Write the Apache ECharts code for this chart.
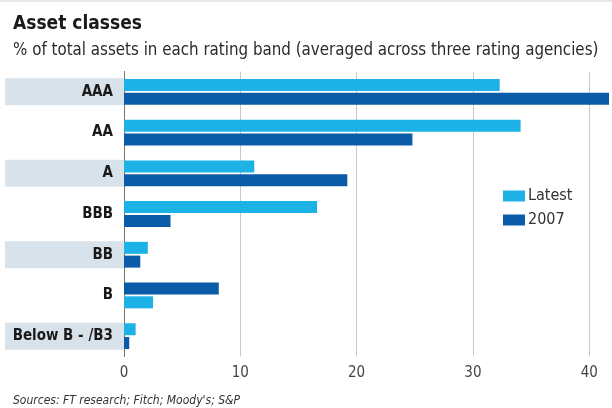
<!DOCTYPE html>
<html>
<head>
<meta charset="utf-8">
<script src="https://cdn.jsdelivr.net/npm/echarts@6/dist/echarts.min.js"></script>
<style>
  html, body { margin: 0; padding: 0; background: #fff; }
  #chart { width: 612px; height: 408px; }
</style>
</head>
<body>
<div id="chart"></div>
<script>
// Rating bands, top to bottom
const categories = ['AAA', 'AA', 'A', 'BBB', 'BB', 'B', 'Below B - /B3'];
// % of total assets
const latestValues = [32.3, 34.1, 11.2, 16.6, 2.05, 2.5, 1.0];
const values2007 = [42.5, 24.8, 19.2, 4.0, 1.4, 8.15, 0.45];
const xTicks = [0, 10, 20, 30, 40];
// in the original the B row has its bars the other way round
const swappedRows = ['B'];

const LIGHT = '#1cb2e6';
const DARK = '#0a5ca8';
const BAND = '#d7e2ea';
const FONT = '"Liberation Sans Narrow", "DejaVu Sans Condensed", sans-serif';

const chart = echarts.init(document.getElementById('chart'));

// top bar and bottom bar of each row
const topBars = categories.map((c, i) => swappedRows.includes(c)
  ? { value: values2007[i], itemStyle: { color: DARK } }
  : { value: latestValues[i] });
const bottomBars = categories.map((c, i) => swappedRows.includes(c)
  ? { value: latestValues[i], itemStyle: { color: LIGHT } }
  : { value: values2007[i] });

const option = {
  animation: false,
  textStyle: { fontFamily: FONT },
  title: [{
    text: 'Asset classes',
    left: 8, top: 10,
    textStyle: { fontSize: 19, fontWeight: 'bold', color: '#1a1a1a', fontFamily: FONT }
  }, {
    text: '% of total assets in each rating band (averaged across three rating agencies)',
    left: 8, top: 37,
    textStyle: { fontSize: 16.8, fontWeight: 'normal', color: '#2a2a2a', fontFamily: FONT }
  }, {
    text: "Sources: FT research; Fitch; Moody's; S&P",
    left: 8, top: 390,
    textStyle: { fontSize: 12, fontWeight: 'normal', fontStyle: 'italic', color: '#333', fontFamily: FONT }
  }],
  graphic: [{
    type: 'line',
    shape: { x1: 0, y1: 1, x2: 612, y2: 1 },
    style: { stroke: '#cfcfcf', lineWidth: 1 }
  }],
  legend: {
    data: ['Latest', '2007'],
    orient: 'vertical',
    left: 498, top: 183,
    itemWidth: 22, itemHeight: 11,
    itemGap: 8,
    icon: 'rect',
    textStyle: { fontSize: 16, color: '#333', fontFamily: FONT, padding: [0, 0, 0, -2] }
  },
  // the plot ends at the right edge, the AAA 2007 bar is cut off there
  grid: { left: 124, right: 0, top: 71.5, height: 285, containLabel: false },
  xAxis: {
    type: 'value',
    min: 0, max: 41.7, interval: 10,
    axisLine: { show: false },
    axisTick: { show: false },
    axisLabel: {
      fontSize: 15, color: '#444', margin: 9, fontFamily: FONT,
      formatter: v => xTicks.includes(v) ? String(v) : ''
    },
    splitLine: { showMaxLine: false, lineStyle: { color: '#c8c8c8', width: 1 } }
  },
  yAxis: {
    type: 'category',
    data: categories,
    inverse: true,
    axisTick: { show: false },
    axisLine: { show: true, lineStyle: { color: '#7c7366', width: 1 } },
    axisLabel: {
      margin: 0,
      interval: 0,
      formatter: (v, i) => (i % 2 === 0 ? '{band|' + v + '}' : '{plain|' + v + '}'),
      rich: {
        band: {
          backgroundColor: BAND, width: 108, height: 27, align: 'right',
          padding: [0, 11, 0, 0],
          fontSize: 15, fontWeight: 'bold', color: '#1a1a1a', fontFamily: FONT
        },
        plain: {
          width: 108, height: 27, align: 'right',
          padding: [0, 11, 0, 0],
          fontSize: 15, fontWeight: 'bold', color: '#1a1a1a', fontFamily: FONT
        }
      }
    }
  },
  series: [{
    name: 'Latest',
    type: 'bar',
    data: topBars,
    barWidth: 12,
    barGap: '15%',
    itemStyle: { color: LIGHT },
    clip: true
  }, {
    name: '2007',
    type: 'bar',
    data: bottomBars,
    barWidth: 12,
    barGap: '15%',
    itemStyle: { color: DARK },
    clip: true
  }]
};

chart.setOption(option);
</script>
</body>
</html>
